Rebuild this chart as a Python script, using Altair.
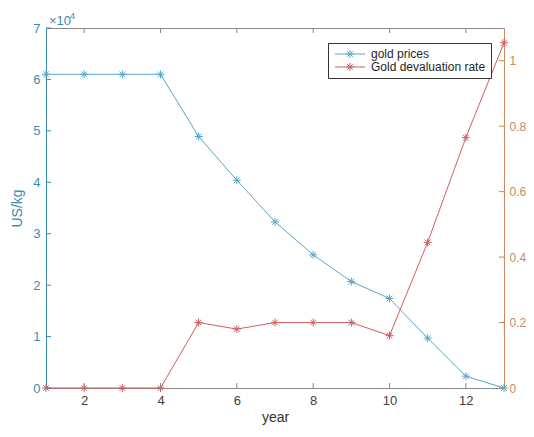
import altair as alt
import pandas as pd

years = [1, 2, 3, 4, 5, 6, 7, 8, 9, 10, 11, 12, 13]
gold_prices = [61000, 61000, 61000, 61000, 48900, 40400, 32300, 25900, 20700, 17400, 9700, 2300, 0]
devaluation = [0, 0, 0, 0, 0.2, 0.18, 0.2, 0.2, 0.2, 0.16, 0.445, 0.765, 1.055]
series_names = ["gold prices", "Gold devaluation rate"]
x_ticks = [2, 4, 6, 8, 10, 12]
left_ticks = [0, 10000, 20000, 30000, 40000, 50000, 60000, 70000]
right_ticks = [0, 0.2, 0.4, 0.6, 0.8, 1.0]

W, H = 458, 360
TEAL = "#3b8cb2"
BLUE = "#5aa6c7"
RED = "#cf5f5f"
BROWN = "#c98a5e"
FONT = "Liberation Sans"

star = "M-1,0H1M0,-1V1M-0.7,-0.7L0.7,0.7M-0.7,0.7L0.7,-0.7"
legend_sym = "M-1,0H6.5M1.75,0H3.75M2.75,-1V1M2.05,-0.7L3.45,0.7M2.05,0.7L3.45,-0.7"

df_g = pd.DataFrame({"year": years, "price": gold_prices, "series": series_names[0]})
df_r = pd.DataFrame({"year": years, "rate": devaluation, "series": series_names[1]})

xscale = alt.Scale(domain=[1, 13], nice=False)
color = alt.Color(
    "series:N",
    scale=alt.Scale(domain=series_names, range=[BLUE, RED]),
    legend=alt.Legend(
        title=None, orient="none", legendX=282, legendY=15,
        symbolType=legend_sym, symbolSize=64, symbolStrokeWidth=1,
        symbolFillColor="transparent",
        labelOffset=26, labelFontSize=12, labelFont=FONT, labelColor="#262626",
        strokeColor="#333333", fillColor="white", padding=5, rowPadding=1,
        labelLimit=300,
    ),
)

xaxis = alt.Axis(values=x_ticks, title="year", ticks=False, grid=False,
                 domainColor="#8a8a8a", labelColor="#404040", labelFontSize=13,
                 labelPadding=6, titleFontSize=14, titleFontWeight="normal",
                 titleColor="#333333", titlePadding=3, labelFont=FONT, titleFont=FONT)

gold_line = alt.Chart(df_g).mark_line(strokeWidth=1, point=alt.OverlayMarkDef(shape=star, filled=False, size=64, strokeWidth=1)).encode(
    x=alt.X("year:Q", scale=xscale, axis=xaxis),
    y=alt.Y("price:Q", scale=alt.Scale(domain=[0, 70000], nice=False),
            axis=alt.Axis(values=left_ticks, labelExpr="datum.value/10000", title="US/kg",
                          orient="left", ticks=False, grid=False, domainColor=TEAL,
                          labelColor=TEAL, titleColor=TEAL, labelFontSize=13, titleFontSize=14,
                          titleFontWeight="normal", labelPadding=6, titlePadding=8,
                          labelFont=FONT, titleFont=FONT)),
    color=color,
)

rate_line = alt.Chart(df_r).mark_line(strokeWidth=1, point=alt.OverlayMarkDef(shape=star, filled=False, size=64, strokeWidth=1)).encode(
    x=alt.X("year:Q", scale=xscale),
    y=alt.Y("rate:Q", scale=alt.Scale(domain=[0, 1.1], nice=False),
            axis=alt.Axis(values=right_ticks, format="~g", title=None, orient="right",
                          ticks=False, grid=False, domainColor=BROWN, labelColor=BROWN,
                          labelFontSize=12, labelPadding=5, labelFont=FONT)),
    color=color,
)

df_xt = pd.DataFrame({"v": x_ticks})
df_lt = pd.DataFrame({"v": left_ticks})
df_rt = pd.DataFrame({"v": right_ticks})

bottom_ticks = alt.Chart(df_xt).mark_rule(color="#8a8a8a").encode(
    x=alt.X("v:Q", scale=xscale), y=alt.value(H), y2=alt.value(H - 5))
top_ticks = alt.Chart(df_xt).mark_rule(color="#8a8a8a").encode(
    x=alt.X("v:Q", scale=xscale), y=alt.value(0), y2=alt.value(5))
l_ticks = alt.Chart(df_lt).mark_rule(color=TEAL).encode(
    y=alt.Y("v:Q", scale=alt.Scale(domain=[0, 70000], nice=False), axis=None),
    x=alt.value(0), x2=alt.value(5))
r_ticks = alt.Chart(df_rt).mark_rule(color=BROWN).encode(
    y=alt.Y("v:Q", scale=alt.Scale(domain=[0, 1.1], nice=False), axis=None),
    x=alt.value(W - 5), x2=alt.value(W))

exp_a = alt.Chart(pd.DataFrame({"t": ["×10"]})).mark_text(
    align="left", baseline="alphabetic", fontSize=13, font=FONT, color=TEAL).encode(
    text="t:N", x=alt.value(3), y=alt.value(-3))
exp_b = alt.Chart(pd.DataFrame({"t": ["4"]})).mark_text(
    align="left", baseline="alphabetic", fontSize=9, font=FONT, color=TEAL).encode(
    text="t:N", x=alt.value(24), y=alt.value(-9))

chart = alt.layer(
    gold_line, rate_line, bottom_ticks, top_ticks, l_ticks, r_ticks, exp_a, exp_b
).resolve_scale(y="independent").properties(
    width=W, height=H,
    autosize=alt.AutoSizeParams(type="none"),
    padding={"left": 38, "top": 20, "right": 22, "bottom": 41},
    background="white",
).configure_view(stroke="#8a8a8a", strokeWidth=1)

chart.save("out.html", embed_options={"renderer": "svg", "actions": False})
